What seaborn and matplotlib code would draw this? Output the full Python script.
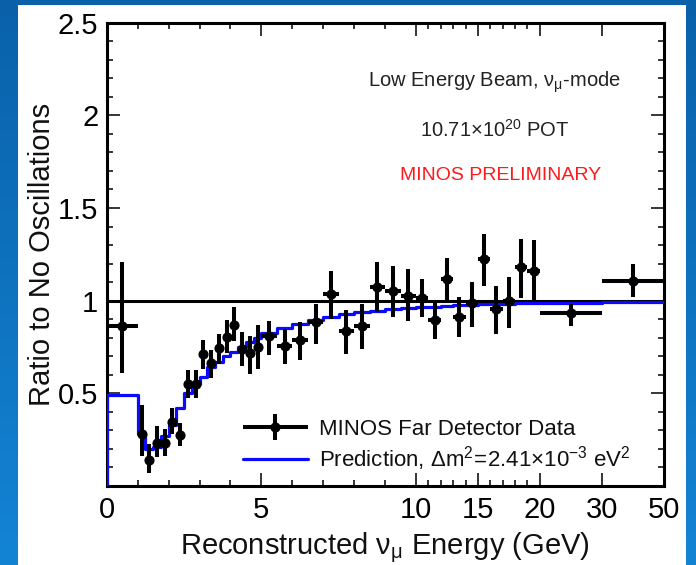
import numpy as np
import matplotlib
matplotlib.use("Agg")
import matplotlib.pyplot as plt
from matplotlib.colors import LinearSegmentedColormap
from matplotlib.patches import Rectangle
from matplotlib.ticker import FixedLocator, FixedFormatter, MultipleLocator
from matplotlib.legend_handler import HandlerErrorbar
from matplotlib.container import ErrorbarContainer
import seaborn as sns
import pandas as pd

# ---------------- data ----------------
bin_edges = [0, 1, 1.25, 1.5, 1.75, 2, 2.25, 2.5, 2.75, 3, 3.25, 3.5, 3.75, 4,
             4.25, 4.5, 4.75, 5, 5.5, 6, 6.5, 7, 7.5, 8, 8.5, 9, 9.5, 10,
             11, 12, 13, 14, 15, 16, 17, 18, 19, 20, 30, 50]

data_ratio = [0.865, 0.279, 0.139, 0.234, 0.234, 0.346, 0.276, 0.550, 0.553,
              0.712, 0.663, 0.742, 0.805, 0.868, 0.739, 0.715, 0.748,
              0.811, 0.757, 0.788, 0.883, 1.036, 0.834, 0.865, 1.076, 1.054, 1.027,
              1.013, 0.895, 1.117, 0.914, 0.986, 1.225, 0.955, 0.996, 1.180, 1.162,
              0.932, 1.108]
data_upper = [1.207, 0.438, 0.229, 0.323, 0.306, 0.420, 0.339, 0.625, 0.625,
              0.788, 0.733, 0.820, 0.896, 0.964, 0.829, 0.811, 0.870,
              0.892, 0.847, 0.883, 0.982, 1.162, 0.950, 0.982, 1.207, 1.189, 1.171,
              1.117, 0.991, 1.231, 1.022, 1.099, 1.360, 1.081, 1.126, 1.333, 1.328,
              0.982, 1.198]
data_lower = [0.612, 0.162, 0.072, 0.157, 0.162, 0.279, 0.216, 0.477, 0.477,
              0.631, 0.585, 0.658, 0.715, 0.784, 0.649, 0.604, 0.631,
              0.708, 0.658, 0.680, 0.766, 0.901, 0.712, 0.739, 0.937, 0.910, 0.888,
              0.910, 0.793, 1.000, 0.802, 0.860, 1.081, 0.820, 0.852, 1.014, 1.000,
              0.865, 1.018]

prediction = [0.49, 0.28, 0.20, 0.21, 0.27, 0.33, 0.42, 0.50, 0.55,
              0.59, 0.64, 0.67, 0.70, 0.725, 0.75, 0.775, 0.80,
              0.827, 0.851, 0.874, 0.896, 0.914, 0.926, 0.937, 0.946, 0.954, 0.960,
              0.964, 0.968, 0.972, 0.975, 0.978, 0.980, 0.982, 0.984, 0.986, 0.988,
              0.990, 0.993]

x_major_ticks = [0, 5, 10, 15, 20, 30, 50]
x_minor_ticks = [1, 2, 3, 4, 6, 7, 8, 9, 11, 12, 13, 14, 16, 17, 18, 19]
y_major_ticks = [0.5, 1, 1.5, 2, 2.5]
y_tick_labels = ["0.5", "1", "1.5", "2", "2.5"]

# ---------------- style ----------------
sns.set_theme(style="ticks")
plt.rcParams["font.family"] = ["Liberation Sans", "DejaVu Sans"]
plt.rcParams["mathtext.fontset"] = "custom"
plt.rcParams["mathtext.rm"] = "Liberation Sans"
plt.rcParams["mathtext.it"] = "Liberation Sans:italic"
plt.rcParams["mathtext.bf"] = "Liberation Sans:bold"

W, H = 696, 565
fig = plt.figure(figsize=(W / 100, H / 100), dpi=100)

# slide background
bg = fig.add_axes([0, 0, 1, 1], zorder=-10)
bg.axis("off")
cmap = LinearSegmentedColormap.from_list("slide", ["#0a61aa", "#1384d4"])
bg.imshow(np.linspace(0, 1, 256).reshape(-1, 1), aspect="auto", cmap=cmap,
          extent=[0, 1, 0, 1], origin="upper")
bg.add_patch(Rectangle((18 / W, 0), (686 - 18) / W, (H - 5) / H,
                       transform=bg.transAxes, facecolor="white", edgecolor="none"))
bg.set_xlim(0, 1)
bg.set_ylim(0, 1)

# main axes
ax = fig.add_axes([106.7 / W, 1 - 486 / H, (663.5 - 106.7) / W, (486 - 22.7) / H])
ax.set_facecolor("white")

E_nodes = [0, 10, 20, 30, 50]
U_nodes = [0, 10, 14, 16, 18]


def fwd(x):
    return np.interp(x, E_nodes, U_nodes)


def inv(u):
    return np.interp(u, U_nodes, E_nodes)


ax.set_xscale("function", functions=(fwd, inv))
ax.set_xlim(0, 50)
ax.set_ylim(0, 2.5)

edges = np.array(bin_edges)
centers = 0.5 * (edges[:-1] + edges[1:])
half = 0.5 * (edges[1:] - edges[:-1])
ratio = np.array(data_ratio)
yerr = np.vstack([ratio - np.array(data_lower), np.array(data_upper) - ratio])

# reference line at 1
ax.axhline(1.0, color="black", lw=2.2, zorder=2)

# prediction step histogram
pred_df = pd.DataFrame({
    "E": [0.0] + list(bin_edges),
    "ratio": [0.0] + list(prediction) + [prediction[-1]],
})
sns.lineplot(data=pred_df, x="E", y="ratio", ax=ax, color="#0a0aff", lw=2.3,
             drawstyle="steps-post", estimator=None, sort=False, zorder=3,
             legend=False)
pred_handle = ax.lines[-1]

# data points
eb = ax.errorbar(centers, ratio, xerr=half, yerr=yerr, fmt="o", color="black",
                 ms=6.3, elinewidth=2.9, capsize=0, zorder=4)

# ticks
ax.xaxis.set_major_locator(FixedLocator(x_major_ticks))
ax.xaxis.set_major_formatter(FixedFormatter([str(t) for t in x_major_ticks]))
ax.xaxis.set_minor_locator(FixedLocator(x_minor_ticks))
ax.yaxis.set_major_locator(FixedLocator(y_major_ticks))
ax.yaxis.set_major_formatter(FixedFormatter(y_tick_labels))
ax.yaxis.set_minor_locator(MultipleLocator(0.1))
ax.tick_params(which="both", direction="in", top=True, right=True,
               color="black", width=1.1, labelsize=21, labelcolor="black")
ax.tick_params(which="major", length=9.5)
ax.tick_params(which="minor", length=4.5)
ax.tick_params(axis="x", which="major", pad=7)
ax.tick_params(axis="y", which="major", pad=6)
for s in ax.spines.values():
    s.set_linewidth(2.2)
    s.set_color("black")
    s.set_visible(True)

ax.set_xlabel(r"Reconstructed $\mathrm{\nu_{\mu}}$ Energy (GeV)", fontsize=21,
              color="#111111", labelpad=5)
ax.set_ylabel("Ratio to No Oscillations", fontsize=21, color="#111111", labelpad=1)

# annotations
ax.text(0.696, 0.872, r"Low Energy Beam, $\mathrm{\nu_{\mu}}$-mode",
        transform=ax.transAxes, ha="center", va="center", fontsize=14.5, color="#222222")
ax.text(0.697, 0.768, r"$\mathrm{10.71{\times}10^{20}}$ POT",
        transform=ax.transAxes, ha="center", va="center", fontsize=14.5, color="#222222")
ax.text(0.707, 0.671, "MINOS PRELIMINARY",
        transform=ax.transAxes, ha="center", va="center", fontsize=14, color="#ff1a1a")

leg = ax.legend([eb, pred_handle],
                ["MINOS Far Detector Data",
                 r"Prediction, $\mathrm{\Delta m^2\!=\!2.41{\times}10^{-3}\ eV^2}$"],
                loc="upper left", bbox_to_anchor=(0.245, 0.145), frameon=False,
                fontsize=16, handlelength=2.9, handletextpad=0.5,
                labelspacing=0.2, borderpad=0, borderaxespad=0,
                handler_map={ErrorbarContainer: HandlerErrorbar(xerr_size=1.45,
                                                                yerr_size=0.6)})
for t in leg.get_texts():
    t.set_color("#111111")

fig.savefig("out.png", dpi=100)
